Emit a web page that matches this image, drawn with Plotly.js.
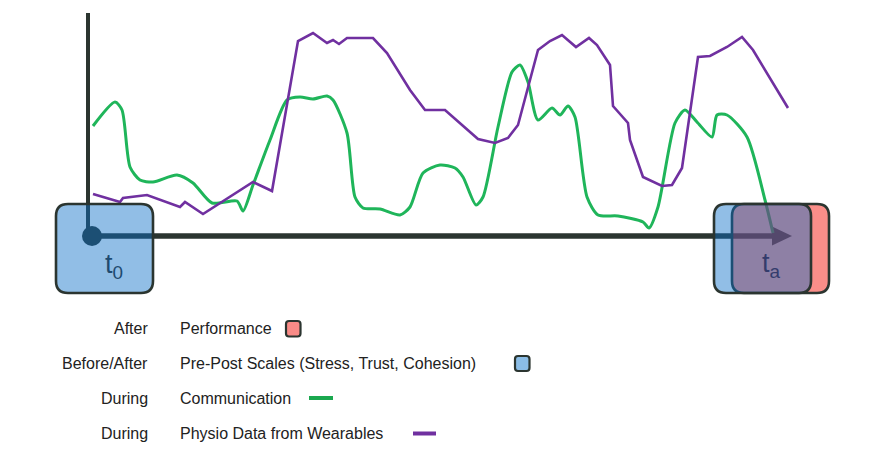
<!DOCTYPE html>
<html>
<head>
<meta charset="utf-8">
<script src="https://cdn.plot.ly/plotly-3.0.1.min.js"></script>
<style>
  body { margin: 0; background: #fff; }
  #chart { width: 877px; height: 457px; }
</style>
</head>
<body>
<div id="chart"></div>
<script>
// Communication (green) - sampled along the timeline
const commX = [93, 115, 122, 130, 140, 153, 177, 193, 212, 237, 243, 253, 270, 287, 300, 313, 327, 333, 347, 355, 363, 380, 400, 410, 423, 440, 455, 463, 476, 483, 498, 512, 520, 528, 538, 552, 560, 568, 575, 587, 598, 618, 643, 649, 658, 675, 685, 697, 712, 717, 727, 747, 765, 773];
const commY = [126, 102, 110, 167, 180, 182, 175, 183, 203, 201, 211, 185, 140, 100, 97, 99, 96, 100, 133, 197, 208, 209, 215, 207, 173, 165, 168, 177, 205, 197, 127, 72, 65, 82, 120, 108, 115, 106, 117, 197, 215, 216, 222, 228, 207, 123, 110, 122, 137, 115, 115, 137, 200, 233];

// Physio data from wearables (purple)
const physioX = [93, 120, 123, 147, 180, 185, 203, 253, 272, 298, 313, 327, 333, 339, 347, 373, 387, 410, 425, 445, 478, 495, 508, 518, 538, 550, 562, 576, 589, 597, 610, 613, 628, 630, 643, 662, 672, 682, 698, 710, 727, 742, 753, 788];
const physioY = [194, 202, 198, 195, 207, 202, 214, 182, 191, 41, 33, 43, 40, 44, 38, 38, 53, 90, 110, 110, 139, 143, 138, 125, 50, 41, 35, 47, 38, 45, 65, 106, 123, 140, 177, 186, 185, 168, 57, 56, 47, 37, 50, 108];

// Legend rows
const whenLabels = ['After', 'Before/After', 'During', 'During'];
const whatLabels = ['Performance', 'Pre-Post Scales (Stress, Trust, Cohesion)', 'Communication', 'Physio Data from Wearables'];

const dark = '#2b3530';
const green = '#1fb55a';
const purple = '#7030a0';
const blueFill = 'rgba(10,110,200,0.45)';
const redFill = 'rgba(245,30,20,0.5)';
const font = 'Liberation Sans, Arial, sans-serif';

function roundRect(x0, y0, x1, y1, r) {
    return 'M' + (x0 + r) + ',' + y0 + ' L' + (x1 - r) + ',' + y0 +
        ' Q' + x1 + ',' + y0 + ' ' + x1 + ',' + (y0 + r) +
        ' L' + x1 + ',' + (y1 - r) +
        ' Q' + x1 + ',' + y1 + ' ' + (x1 - r) + ',' + y1 +
        ' L' + (x0 + r) + ',' + y1 +
        ' Q' + x0 + ',' + y1 + ' ' + x0 + ',' + (y1 - r) +
        ' L' + x0 + ',' + (y0 + r) +
        ' Q' + x0 + ',' + y0 + ' ' + (x0 + r) + ',' + y0 + ' Z';
}

const traces = [
    {
        x: commX, y: commY, type: 'scatter', mode: 'lines',
        line: { color: green, width: 3, shape: 'spline', smoothing: 0.7 },
        hoverinfo: 'skip'
    },
    {
        x: physioX, y: physioY, type: 'scatter', mode: 'lines',
        line: { color: purple, width: 2.6 },
        hoverinfo: 'skip'
    }
];

const shapes = [
    // axes
    { type: 'line', layer: 'below', x0: 88, x1: 88, y0: 13, y1: 236, line: { color: dark, width: 4 } },
    { type: 'line', layer: 'below', x0: 90, x1: 776, y0: 236, y1: 236, line: { color: dark, width: 5.5 } },
    { type: 'circle', layer: 'below', x0: 82, x1: 102, y0: 226, y1: 246, fillcolor: dark, line: { width: 0 } },
    { type: 'path', layer: 'below', path: 'M772,226.5 L792,236 L772,245.5 Z', fillcolor: dark, line: { width: 0 } },
    // t0 box
    { type: 'path', layer: 'above', path: roundRect(56, 204, 153, 293, 12), fillcolor: blueFill, line: { color: dark, width: 2.6 } },
    // ta boxes
    { type: 'path', layer: 'above', path: roundRect(732, 204, 829, 293, 12), fillcolor: redFill, line: { color: dark, width: 2.6 } },
    { type: 'path', layer: 'above', path: roundRect(714, 204, 811, 293, 12), fillcolor: blueFill, line: { color: dark, width: 2.6 } },
    // legend markers
    { type: 'path', layer: 'above', path: roundRect(286, 321, 300.5, 336.5, 3), fillcolor: '#f98b87', line: { color: dark, width: 2.2 } },
    { type: 'path', layer: 'above', path: roundRect(515, 356, 529.5, 371, 3), fillcolor: '#8bbde6', line: { color: dark, width: 2.2 } },
    { type: 'line', layer: 'above', x0: 309, x1: 333, y0: 398, y1: 398, line: { color: '#1aa84f', width: 4 } },
    { type: 'line', layer: 'above', x0: 413, x1: 436, y0: 433.5, y1: 433.5, line: { color: purple, width: 4 } }
];

const rowY = [328, 363, 398, 433];
const annotations = [];
whenLabels.forEach((t, i) => {
    annotations.push({ x: 150, y: rowY[i], text: t, showarrow: false, xanchor: 'right', yanchor: 'middle',
        font: { family: font, size: 16, color: '#222' } });
    annotations.push({ x: 178, y: rowY[i], text: whatLabels[i], showarrow: false, xanchor: 'left', yanchor: 'middle',
        font: { family: font, size: 16, color: '#222' } });
});
annotations.push({ x: 114, y: 266, text: 't<sub>0</sub>', showarrow: false, xanchor: 'center', yanchor: 'middle',
    font: { family: font, size: 27, color: '#1e4a70' } });
annotations.push({ x: 771, y: 265, text: 't<sub>a</sub>', showarrow: false, xanchor: 'center', yanchor: 'middle',
    font: { family: font, size: 27, color: '#343c6c' } });

const layout = {
    width: 877,
    height: 457,
    margin: { l: 0, r: 0, t: 0, b: 0 },
    paper_bgcolor: '#fff',
    plot_bgcolor: '#fff',
    showlegend: false,
    xaxis: { range: [0, 877], visible: false, fixedrange: true },
    yaxis: { range: [457, 0], visible: false, fixedrange: true },
    shapes: shapes,
    annotations: annotations
};

Plotly.newPlot('chart', traces, layout, { staticPlot: true });
</script>
</body>
</html>
